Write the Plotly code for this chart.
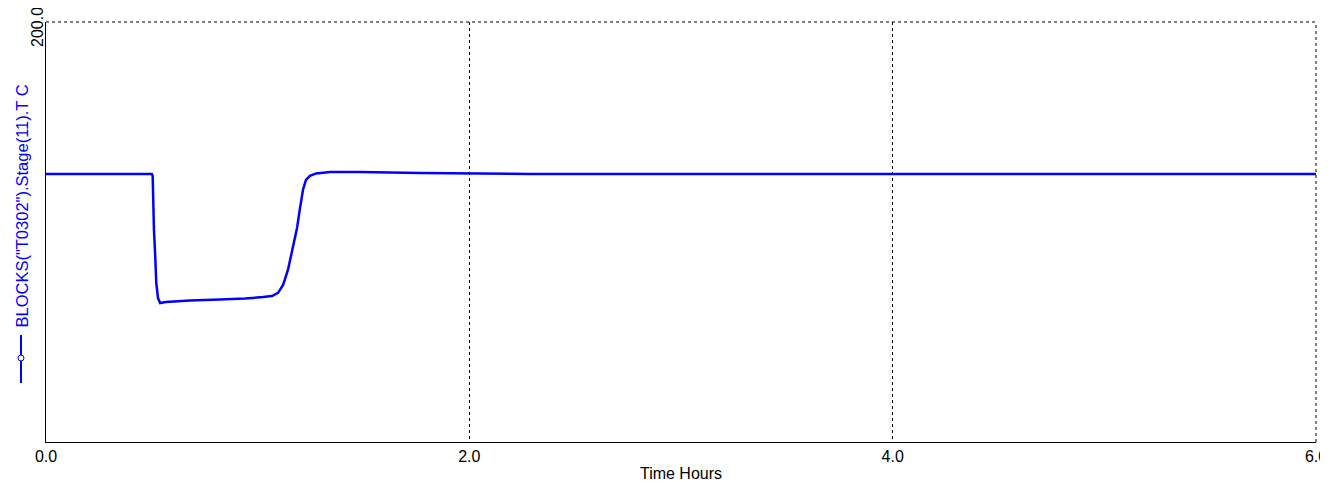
import plotly.graph_objects as go

# Time (hours) and temperature (C)
time_h = [0.0, 0.500, 0.504, 0.5055, 0.510, 0.516, 0.521, 0.529, 0.539, 0.567, 0.680,
          0.822, 0.940, 1.025, 1.068, 1.096, 1.120, 1.143, 1.167, 1.186, 1.200,
          1.214, 1.228, 1.247, 1.276, 1.342, 1.483, 1.767, 2.287, 4.0, 6.0]
temp_c = [127.6, 127.6, 126.7, 115.2, 101.0, 88.6, 75.7, 68.6, 66.2, 66.7, 67.4,
          67.9, 68.3, 69.0, 69.5, 71.0, 74.8, 81.9, 92.4, 101.9, 111.4,
          120.0, 124.8, 126.7, 127.9, 128.6, 128.6, 128.1, 127.6, 127.6, 127.6]

x_ticks = [0, 2, 4, 6]
x_ticktext = ["0.0", "2.0", "4.0", "6.0"]
y_top = 200
y_top_text = "200.0"
y_title = 'BLOCKS("T0302").Stage(11).T C'
x_title = "Time Hours"

FONT = "Liberation Sans, Arial, sans-serif"
BLUE = "#0000FF"

fig = go.Figure()
fig.add_trace(go.Scatter(x=time_h, y=temp_c, mode="lines",
                         line=dict(color=BLUE, width=2.5), showlegend=False))

# page has an 8px body margin: figure placed at (8, 8)
OFF = 8
PL, PR, PT, PB = 46, 1316, 22, 442   # plot area in page pixels
W, H = 1328 - OFF, 482 - OFF
pw = PR - PL
ph = PB - PT

def px(xp):
    return (xp - PL) / pw

def py(yp):
    return (PB - yp) / ph

fig.update_layout(
    width=W, height=H,
    margin=dict(l=PL - OFF, r=W - (PR - OFF), t=PT - OFF, b=H - (PB - OFF),
                autoexpand=False),
    paper_bgcolor="white", plot_bgcolor="white",
    font=dict(family=FONT, size=16, color="black"),
    xaxis=dict(range=[0, 6], tickvals=x_ticks, ticktext=x_ticktext,
               showline=True, linecolor="black", linewidth=1,
               showgrid=True, gridcolor="black", gridwidth=1, griddash="3px,3px",
               zeroline=False, ticks="", automargin=False,
               title=dict(text=x_title, standoff=4, font=dict(size=16))),
    yaxis=dict(range=[0, 200], showticklabels=False,
               showline=True, linecolor="black", linewidth=1,
               showgrid=False, zeroline=False, ticks="", automargin=False),
    shapes=[
        dict(type="line", xref="paper", yref="paper", x0=0, x1=1, y0=1, y1=1,
             line=dict(color="black", width=1, dash="3px,3px")),
        dict(type="line", xref="paper", yref="paper", x0=1, x1=1, y0=0, y1=1,
             line=dict(color="black", width=1, dash="3px,3px")),
        dict(type="line", xref="paper", yref="paper", x0=px(21), x1=px(21),
             y0=py(335), y1=py(383), line=dict(color=BLUE, width=2)),
        dict(type="circle", xref="paper", yref="paper", x0=px(18), x1=px(24),
             y0=py(361), y1=py(355), fillcolor="white",
             line=dict(color=BLUE, width=1)),
    ],
    annotations=[
        dict(text=y_title, xref="paper", yref="paper", x=px(21), y=py(206.5),
             xanchor="center", yanchor="middle", textangle=-90, showarrow=False,
             font=dict(family=FONT, size=16.5, color=BLUE)),
        dict(text=y_top_text, xref="paper", yref="paper", x=px(37.5), y=py(27.5),
             xanchor="center", yanchor="middle", textangle=-90, showarrow=False,
             font=dict(family=FONT, size=16, color="black")),
    ],
)

fig.write_html("out.html")
